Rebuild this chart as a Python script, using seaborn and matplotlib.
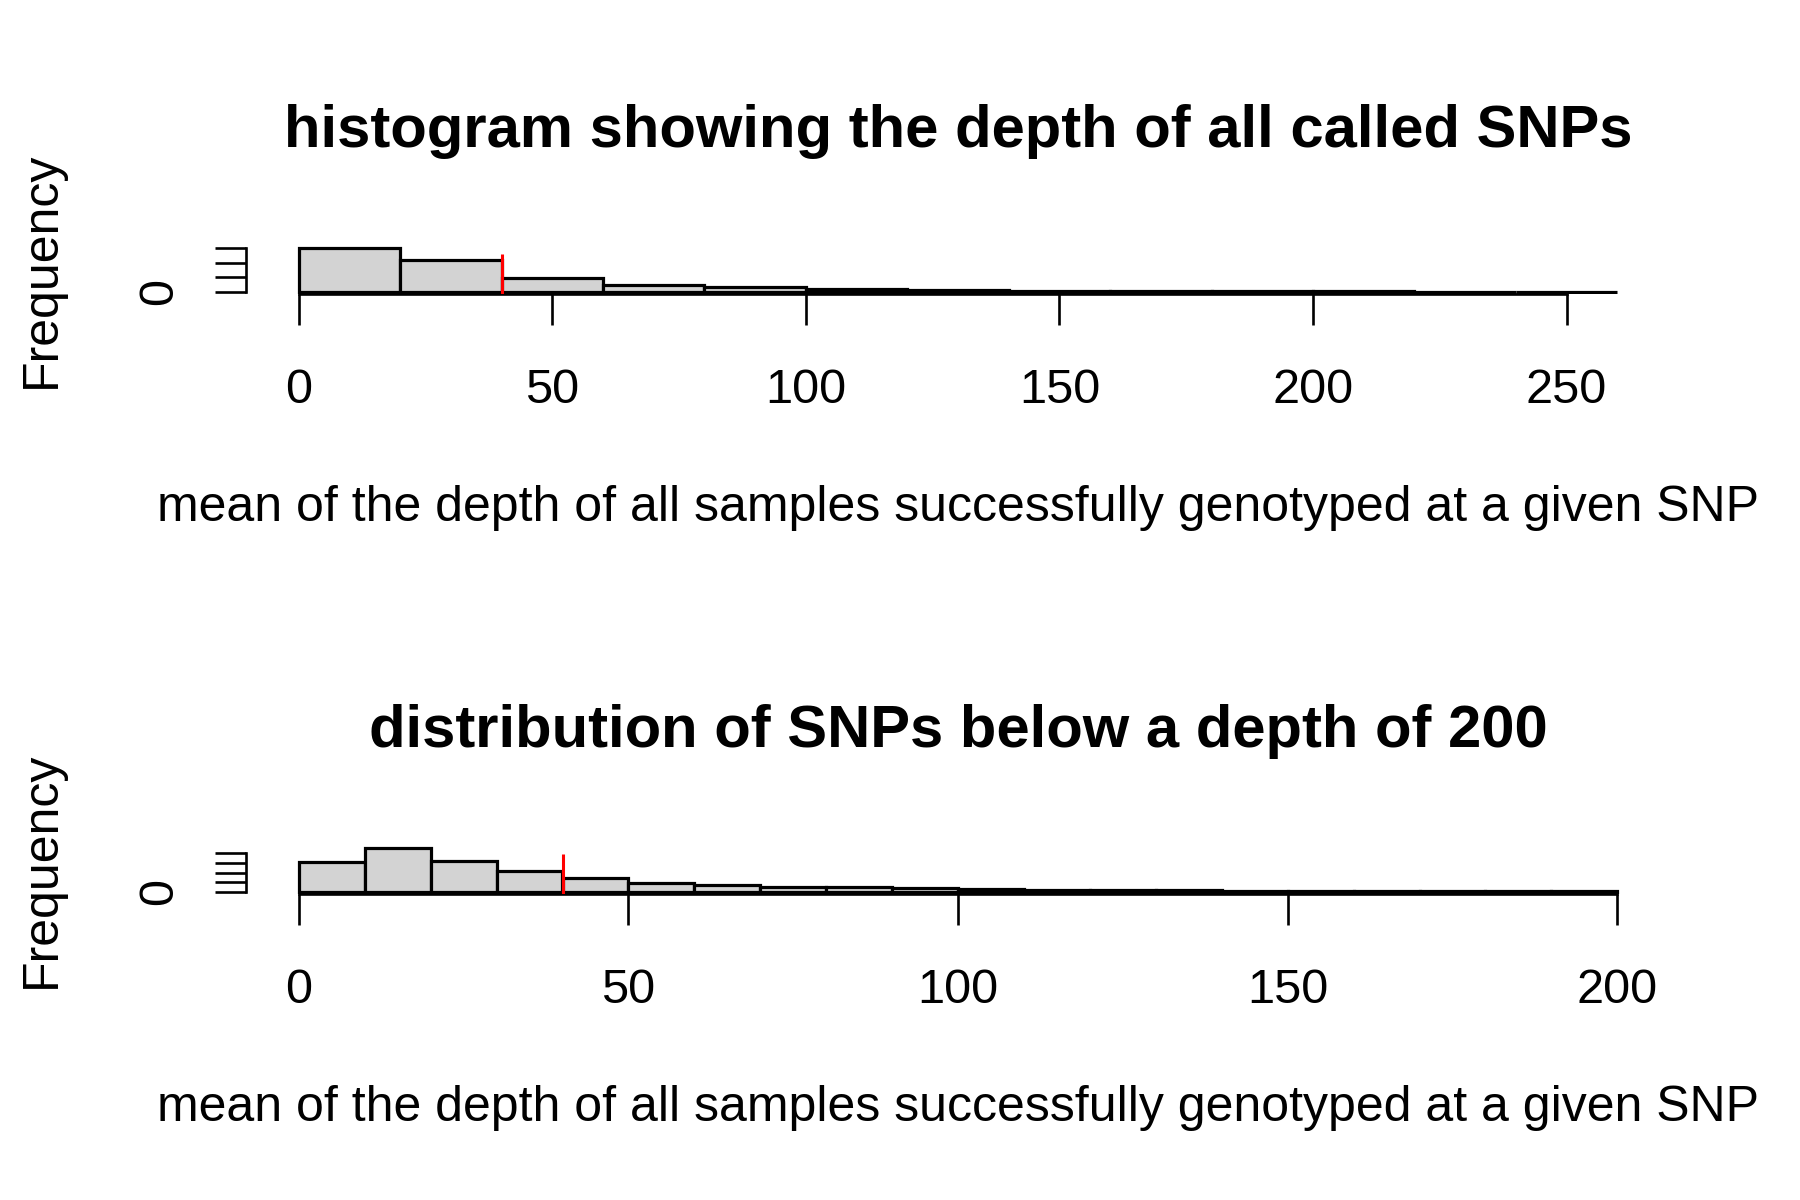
import matplotlib
matplotlib.use("Agg")
import matplotlib.pyplot as plt
import numpy as np
import pandas as pd
import seaborn as sns

# bin edges and counts
all_edges = list(range(0, 261, 20))
all_counts = [15200, 10800, 4600, 2400, 1600, 950, 600, 380, 250, 170, 110, 70, 40]
all_xticks = [0, 50, 100, 150, 200, 250]
all_yticks = [0, 5000, 10000, 15000]

low_edges = list(range(0, 201, 10))
low_counts = [6100, 9150, 6400, 4400, 2840, 1760, 1350, 1050, 900, 700,
              540, 410, 330, 270, 210, 170, 140, 110, 95, 75]
low_xticks = [0, 50, 100, 150, 200]
low_yticks = [0, 2000, 4000, 6000, 8000]

cutoff = 40
cutoff_top = [12900, 7800]

titles = ["histogram showing the depth of all called SNPs",
          "distribution of SNPs below a depth of 200"]
xlab = "mean of the depth of all samples successfully genotyped at a given SNP"
ylab = "Frequency"

sns.set_style("white")
plt.rcParams['font.family'] = ['Liberation Sans', 'DejaVu Sans']
plt.rcParams['text.color'] = 'black'
plt.rcParams['axes.labelcolor'] = 'black'

fig = plt.figure(figsize=(18, 12), dpi=100)
ax_top = fig.add_axes([0.1367, 0.7554, 0.7911, 0.0396])
ax_bot = fig.add_axes([0.1367, 0.2554, 0.7911, 0.0396])

panels = [
    (ax_top, all_edges, all_counts, all_xticks, all_yticks, titles[0], cutoff_top[0]),
    (ax_bot, low_edges, low_counts, low_xticks, low_yticks, titles[1], cutoff_top[1]),
]

for ax, edges, counts, xticks, yticks, title, red_top in panels:
    e = np.asarray(edges, dtype=float)
    df = pd.DataFrame({'depth': (e[:-1] + e[1:]) / 2, 'n': counts})
    sns.histplot(data=df, x='depth', weights='n', bins=edges, ax=ax,
                 color='#d3d3d3', edgecolor='black', linewidth=2.3, alpha=1)

    # R-style plot region: 4% padding around data range
    span = edges[-1] - edges[0]
    ax.set_xlim(edges[0] - 0.04 * span, edges[-1] + 0.04 * span)
    ymax = max(counts)
    y0 = -0.04 * ymax
    ax.set_ylim(y0, 1.04 * ymax)

    ax.vlines(cutoff, y0, red_top, color='red', linewidth=2.2, zorder=5)

    for s in ['top', 'right']:
        ax.spines[s].set_visible(False)
    for s in ['left', 'bottom']:
        ax.spines[s].set_linewidth(1.9)
        ax.spines[s].set_color('black')
    ax.spines['bottom'].set_bounds(xticks[0], xticks[-1])
    ax.spines['left'].set_bounds(yticks[0], yticks[-1])

    ax.set_xticks(xticks)
    ax.set_xticklabels([str(v) for v in xticks])
    ax.set_yticks(yticks)
    ax.set_yticklabels([str(v) if v == 0 else '' for v in yticks],
                       rotation=90, va='center')

    ax.tick_params(axis='both', direction='out', length=22.3, width=1.9,
                   color='black', labelsize=35, labelcolor='black',
                   bottom=True, left=True)
    ax.tick_params(axis='x', pad=31.3)
    ax.tick_params(axis='y', pad=23.8)

    ax.set_title(title, fontsize=43, fontweight='bold', pad=71, color='black')
    ax.set_xlabel(xlab, fontsize=36)
    ax.set_ylabel(ylab, fontsize=36)
    ax.xaxis.set_label_coords(0.5, -4.02)
    ax.yaxis.set_label_coords(-0.1275, 0.5)
    ax.grid(False)

fig.savefig("out.png", dpi=100, facecolor='white')
